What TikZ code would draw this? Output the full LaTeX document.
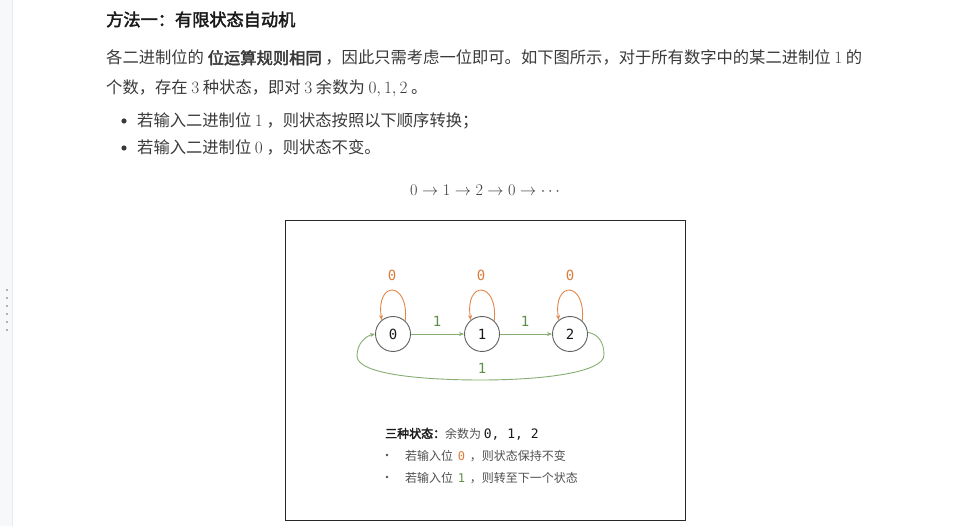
\documentclass[tikz,border=0pt]{standalone}
\usepackage{fontspec}
\usetikzlibrary{arrows.meta}
\newfontfamily\cjk{Noto Sans CJK SC}[AutoFakeBold=2.5]
\newfontfamily\mono{DejaVu Sans Mono}
\definecolor{txt}{HTML}{3A3A3A}
\definecolor{ttl}{HTML}{1A1A1A}
\definecolor{org}{HTML}{E2874A}
\definecolor{orgt}{HTML}{DD7B3C}
\definecolor{grn}{HTML}{86AE72}
\definecolor{grnt}{HTML}{5E9146}
\definecolor{cir}{HTML}{606060}
\definecolor{leg}{HTML}{505050}
\definecolor{strip}{HTML}{F7F8FA}
\definecolor{stripline}{HTML}{E8EAED}
\definecolor{frame}{HTML}{282828}
\newcommand\dg[1]{{\fontsize{17}{19}\selectfont$#1$}}
\tikzset{
  line/.style={anchor=base west,inner sep=0pt,text=txt,font=\cjk\fontsize{16.3}{19}\selectfont},
  state/.style={circle,draw=cir,line width=0.9pt,minimum size=35pt,inner sep=0pt,fill=white,font=\mono\fontsize{14}{14}\selectfont,text=ttl},
  loope/.style={draw=org,line width=0.9pt,-{Stealth[length=5pt,width=4pt]}},
  fwd/.style={draw=grn,line width=0.9pt,-{Stealth[length=5pt,width=4pt]}},
  zlab/.style={font=\mono\fontsize{14}{14}\selectfont,text=orgt,inner sep=0pt},
  olab/.style={font=\mono\fontsize{14}{14}\selectfont,text=grnt,inner sep=0pt},
  legl/.style={anchor=base west,inner sep=0pt,text=leg,font=\cjk\fontsize{12}{14}\selectfont},
}
\begin{document}
\begin{tikzpicture}[x=1pt,y=-1pt]
\useasboundingbox[fill=white] (0,0) rectangle (958,526);
% left strip
\fill[strip] (0,0) rectangle (12,526);
\draw[stripline,line width=0.8pt] (12,0) -- (12,526);
\foreach \yy in {289,297,305,313,321,329}
  \fill[gray!60] (6,\yy) rectangle (8,\yy+2);
% title
\node[line,text=ttl,font=\cjk\bfseries\fontsize{17.2}{20}\selectfont] (title) at (106,26) {方法一：有限状态自动机};
% paragraph
\node[line] (p1) at (106,64) {各二进制位的 {\bfseries 位运算规则相同} ，因此只需考虑一位即可。如下图所示，对于所有数字中的某二进制位 \dg{1} 的};
\node[line] (p2) at (106,94) {个数，存在 \dg{3} 种状态，即对 \dg{3} 余数为 \dg{0,1,2} 。};
% bullets
\fill[txt] (124,121) circle (2.6pt);
\node[line] (b1) at (137,127) {若输入二进制位 \dg{1} ，则状态按照以下顺序转换；};
\fill[txt] (124,148) circle (2.6pt);
\node[line] (b2) at (137,154) {若输入二进制位 \dg{0} ，则状态不变。};
% formula
\node[inner sep=0pt,text=txt,font=\fontsize{16}{18}\selectfont,scale=0.94,transform shape] (eq) at (485,190) {$0 \to 1 \to 2 \to 0 \to \cdots$};
% figure frame
\draw[frame,line width=0.9pt] (285,220) rectangle (685,520);
% states
\node[state] (n0) at (393,334) {0};
\node[state] (n1) at (482,334) {1};
\node[state] (n2) at (570,334) {2};
% self loops
\foreach \n in {n0,n1,n2}
  \draw[loope] (\n.47) .. controls +(4,-40) and +(-6,-40) .. (\n.129);
\node[zlab] (z0) at (392,275) {0};
\node[zlab] (z1) at (481,275) {0};
\node[zlab] (z2) at (570,275) {0};
% forward arrows
\draw[fwd] (n0) -- (n1);
\draw[fwd] (n1) -- (n2);
\node[olab] (o1) at (437,321) {1};
\node[olab] (o2) at (525,321) {1};
% return arrow
\draw[fwd] (n2.5) .. controls (598,334) and (604,342) .. (604,355)
  .. controls (604,372) and (545,380) .. (481,380)
  .. controls (420,380) and (357,374) .. (357,356)
  .. controls (357,343) and (366,336) .. (n0.west);
\node[olab] (o3) at (482,368) {1};
% legend
\node[legl,text=ttl] (lg) at (385,438) {{\bfseries 三种状态：}{\color{leg}余数为} {\mono\fontsize{13}{14}\selectfont 0, 1, 2}};
\fill[leg] (387,455) circle (1.3pt);
\node[legl] (l1) at (405,460) {若输入位 \,{\mono\color{orgt}0}\, ，则状态保持不变};
\fill[leg] (387,477) circle (1.3pt);
\node[legl] (l2) at (405,482) {若输入位 \,{\mono\color{grnt}1}\, ，则转至下一个状态};
\end{tikzpicture}
\end{document}
